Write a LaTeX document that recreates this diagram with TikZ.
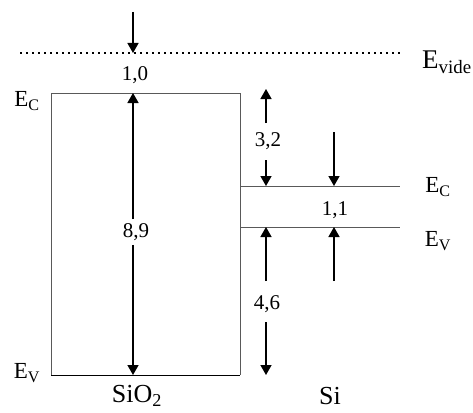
\documentclass[tikz,border=0pt]{standalone}
\usepackage{fontspec}
\setmainfont{Liberation Serif}
\usetikzlibrary{arrows.meta}
\begin{document}
\begin{tikzpicture}[x=1pt,y=-1pt,
  arr/.style={line width=1.4pt,-{Triangle[length=10pt,width=11pt]}},
  band/.style={draw=black!65,line width=1pt},
  num/.style={font=\fontsize{21}{21}\selectfont,inner sep=1pt},
  lvl/.style={font=\fontsize{23}{23}\selectfont,inner sep=0pt},
  mat/.style={font=\fontsize{26}{26}\selectfont,inner sep=0pt}]
\useasboundingbox (0,0) rectangle (473,412);
% vacuum level
\coordinate (vacL) at (20,53);
\coordinate (vacR) at (400,53);
\draw[line width=1.5pt,dash pattern=on 2pt off 4pt] (vacL) -- (vacR);
\node[font=\fontsize{27}{27}\selectfont,inner sep=0pt,anchor=west] (evide) at (422,62) {E\textsubscript{vide}};
% SiO2 box
\coordinate (bTL) at (51,93);
\coordinate (bTR) at (240,93);
\coordinate (bBL) at (51,375);
\coordinate (bBR) at (240,375);
\draw[band] (bBL) -- (bTL) -- (bTR) -- (bBR);
\draw[line width=1pt] (bBL) -- (bBR);
\node[lvl] (ecl) at (27,101) {E\textsubscript{C}};
\node[lvl] (evl) at (27,373) {E\textsubscript{V}};
% Si bands
\coordinate (siCL) at (240,186);
\coordinate (siCR) at (400,186);
\coordinate (siVL) at (240,227);
\coordinate (siVR) at (400,227);
\draw[band] (siCL) -- (siCR);
\draw[band] (siVL) -- (siVR);
\node[lvl] (ecr) at (438,187) {E\textsubscript{C}};
\node[lvl] (evr) at (438,241) {E\textsubscript{V}};
% 1,0
\coordinate (t10) at (133,12);
\coordinate (v10) at (133,53);
\draw[arr] (t10) -- (v10);
\node[num] (l10) at (135,75) {1,0};
% 8,9
\coordinate (g1) at (133,93);
\coordinate (g2) at (133,375);
\node[num,fill=white,inner sep=4pt] (l89) at (136,232) {8,9};
\draw[arr] (l89.north -| g1) -- (g1);
\draw[arr] (l89.south -| g2) -- (g2);
% 3,2
\coordinate (o1) at (266,89);
\coordinate (o2) at (266,186);
\coordinate (o1s) at (266,123);
\coordinate (o2s) at (266,160);
\node[num] (l32) at (268,141) {3,2};
\draw[arr] (o1s) -- (o1);
\draw[arr] (o2s) -- (o2);
% 4,6
\coordinate (p1) at (266,227);
\coordinate (p2) at (266,375);
\coordinate (p1s) at (266,281);
\coordinate (p2s) at (266,322);
\node[num] (l46) at (267,304) {4,6};
\draw[arr] (p1s) -- (p1);
\draw[arr] (p2s) -- (p2);
% 1,1
\coordinate (q1) at (334,132);
\coordinate (q2) at (334,186);
\coordinate (q3) at (334,281);
\coordinate (q4) at (334,227);
\draw[arr] (q1) -- (q2);
\draw[arr] (q3) -- (q4);
\node[num] (l11) at (335,210) {1,1};
% materials
\node[mat] (sio2) at (137,396) {SiO\textsubscript{2}};
\node[mat] (si) at (330,396) {Si};
\end{tikzpicture}
\end{document}
